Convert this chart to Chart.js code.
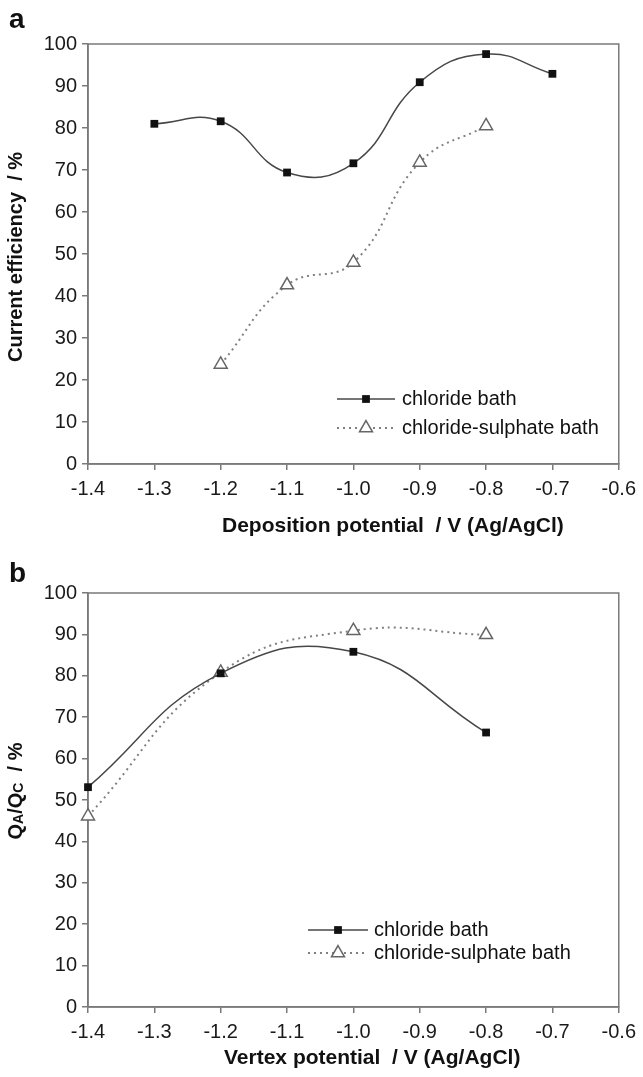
<!DOCTYPE html>
<html>
<head>
<meta charset="utf-8">
<script src="https://cdn.jsdelivr.net/npm/chart.js@4.4.1/dist/chart.umd.min.js"></script>
<style>
body { margin: 0; background: #fff; }
canvas { position: absolute; left: 0; }
#chartA { top: 0; }
#chartB { top: 540px; }
</style>
</head>
<body>
<canvas id="chartA" width="643" height="540"></canvas>
<canvas id="chartB" width="643" height="537"></canvas>
<script>
// panel a: current efficiency vs deposition potential
var potA = [-1.3, -1.2, -1.1, -1.0, -0.9, -0.8, -0.7];
var chlorideA = [81.0, 81.6, 69.4, 71.6, 90.9, 97.6, 92.9];
var potA2 = [-1.2, -1.1, -1.0, -0.9, -0.8];
var sulphateA = [23.7, 42.6, 48.0, 71.8, 80.5];

// panel b: QA/QC vs vertex potential
var potB = [-1.4, -1.2, -1.0, -0.8];
var chlorideB = [53.1, 80.6, 85.8, 66.3];
var sulphateB = [46.1, 80.8, 90.9, 89.9];

var xTicks = [-1.4, -1.3, -1.2, -1.1, -1.0, -0.9, -0.8, -0.7, -0.6];
var yTicks = [0, 10, 20, 30, 40, 50, 60, 70, 80, 90, 100];
var seriesNames = ["chloride bath", "chloride-sulphate bath"];

var FONT = "'Liberation Sans', Arial, sans-serif";
var AXIS = '#7a7a7a';

function pts(xs, ys) {
    var out = [];
    for (var i in xs) out.push({ x: xs[i], y: ys[i] });
    return out;
}

function chlorideSet(data) {
    return {
        label: seriesNames[0],
        data: data,
        borderColor: '#474747',
        borderWidth: 1.5,
        tension: 0.45,
        pointStyle: 'rect',
        pointRadius: 5.5,
        pointBackgroundColor: '#111',
        pointBorderColor: '#111',
        pointBorderWidth: 0,
        clip: false
    };
}

function sulphateSet(data) {
    return {
        label: seriesNames[1],
        data: data,
        borderColor: '#808080',
        borderWidth: 2,
        borderDash: [2, 4],
        tension: 0.45,
        pointStyle: 'triangle',
        pointRadius: 7.5,
        pointBackgroundColor: '#fff',
        pointBorderColor: '#666',
        pointBorderWidth: 1.5,
        clip: false
    };
}

// plot frame (top + right side like the excel box)
var framePlugin = {
    id: 'frame',
    beforeDatasetsDraw: function(chart) {
        var a = chart.chartArea, ctx = chart.ctx;
        ctx.save();
        ctx.strokeStyle = AXIS;
        ctx.lineWidth = 1.5;
        ctx.strokeRect(a.left, a.top, a.right - a.left, a.bottom - a.top);
        ctx.restore();
    }
};

// legend inside the plot, sample line with marker in the middle
var legendPlugin = {
    id: 'inlegend',
    afterDraw: function(chart) {
        var o = chart.options.plugins.inlegend;
        var ctx = chart.ctx, a = chart.chartArea;
        chart.data.datasets.forEach(function(ds, i) {
            var y = a.top + o.top + i * o.gap;
            var x0 = a.left + o.left;
            ctx.save();
            ctx.strokeStyle = ds.borderColor;
            ctx.lineWidth = ds.borderWidth;
            ctx.setLineDash(ds.borderDash || []);
            ctx.beginPath();
            ctx.moveTo(x0, y);
            ctx.lineTo(x0 + o.len, y);
            ctx.stroke();
            ctx.setLineDash([]);
            ctx.fillStyle = ds.pointBackgroundColor;
            ctx.strokeStyle = ds.pointBorderColor;
            ctx.lineWidth = ds.pointBorderWidth;
            Chart.helpers.drawPoint(ctx, {
                pointStyle: ds.pointStyle,
                radius: ds.pointRadius,
                borderWidth: ds.pointBorderWidth,
                rotation: 0
            }, x0 + o.len / 2, y);
            ctx.fillStyle = '#111';
            ctx.font = o.size + 'px ' + FONT;
            ctx.textBaseline = 'middle';
            ctx.textAlign = 'left';
            ctx.fillText(ds.label, x0 + o.len + o.textGap, y);
            ctx.restore();
        });
    }
};

// axis titles and panel letter
var titlePlugin = {
    id: 'titles',
    afterDraw: function(chart) {
        var o = chart.options.plugins.titles;
        var ctx = chart.ctx, a = chart.chartArea;
        ctx.save();
        ctx.fillStyle = '#111';
        ctx.textBaseline = 'alphabetic';
        ctx.font = 'bold 28px ' + FONT;
        ctx.fillText(o.letter, o.letterX, o.letterY);

        ctx.font = 'bold 21px ' + FONT;
        ctx.textAlign = 'left';
        ctx.textBaseline = 'middle';
        ctx.fillText(o.xTitle, a.left + o.xTitleDX, a.bottom + o.xTitleDY);

        // y title, rotated; parts flagged 1 are subscripts
        var parts = o.yTitle;
        var big = 'bold 20px ' + FONT, small = 'bold 14px ' + FONT;
        var total = 0;
        parts.forEach(function(p) {
            ctx.font = p[1] ? small : big;
            total += ctx.measureText(p[0]).width;
        });
        ctx.translate(o.yTitleX, (a.top + a.bottom) / 2 + o.yTitleDY);
        ctx.rotate(-Math.PI / 2);
        var x = -total / 2;
        parts.forEach(function(p) {
            ctx.font = p[1] ? small : big;
            ctx.fillText(p[0], x, p[1] ? 3 : 0);
            x += ctx.measureText(p[0]).width;
        });
        ctx.restore();
    }
};

function makeOptions(pad, xh, legendPos, titles) {
    return {
        responsive: false,
        animation: false,
        layout: { padding: pad },
        plugins: {
            legend: { display: false },
            tooltip: { enabled: false },
            inlegend: legendPos,
            titles: titles
        },
        scales: {
            x: {
                type: 'linear',
                min: -1.4,
                max: -0.6,
                afterBuildTicks: function(s) { s.ticks = xTicks.map(function(v) { return { value: v }; }); },
                afterFit: function(s) { s.height = xh; },
                ticks: {
                    color: '#1a1a1a',
                    font: { family: FONT, size: 20 },
                    padding: 7,
                    maxRotation: 0,
                    callback: function(v) { return Number(v).toFixed(1); }
                },
                grid: { drawOnChartArea: false, drawTicks: true, tickLength: 6, color: AXIS, lineWidth: 1.5 },
                border: { display: true, color: AXIS, width: 1.5 }
            },
            y: {
                min: 0,
                max: 100,
                afterBuildTicks: function(s) { s.ticks = yTicks.map(function(v) { return { value: v }; }); },
                afterFit: function(s) { s.width = 88; },
                ticks: {
                    color: '#1a1a1a',
                    font: { family: FONT, size: 20 },
                    padding: 5
                },
                grid: { drawOnChartArea: false, drawTicks: true, tickLength: 6, color: AXIS, lineWidth: 1.5 },
                border: { display: true, color: AXIS, width: 1.5 }
            }
        }
    };
}

new Chart(document.getElementById('chartA'), {
    type: 'line',
    data: { datasets: [chlorideSet(pts(potA, chlorideA)), sulphateSet(pts(potA2, sulphateA))] },
    options: makeOptions(
        { top: 44, right: 21, left: 0, bottom: 0 }, 76,
        { left: 249, top: 355, gap: 29, len: 58, textGap: 7, size: 20 },
        {
            letter: 'a', letterX: 9, letterY: 28,
            xTitle: 'Deposition potential  / V (Ag/AgCl)', xTitleDX: 134, xTitleDY: 62,
            yTitle: [['Current efficiency  / %', 0]], yTitleX: 16, yTitleDY: 3
        }
    ),
    plugins: [framePlugin, legendPlugin, titlePlugin]
});

new Chart(document.getElementById('chartB'), {
    type: 'line',
    data: { datasets: [chlorideSet(pts(potB, chlorideB)), sulphateSet(pts(potB, sulphateB))] },
    options: makeOptions(
        { top: 53, right: 19, left: 0, bottom: 0 }, 70,
        { left: 220, top: 337, gap: 23, len: 60, textGap: 6, size: 20 },
        {
            letter: 'b', letterX: 9, letterY: 42,
            xTitle: 'Vertex potential  / V (Ag/AgCl)', xTitleDX: 136, xTitleDY: 51,
            yTitle: [['Q', 0], ['A', 1], ['/Q', 0], ['C', 1], ['  / %', 0]], yTitleX: 16, yTitleDY: -9
        }
    ),
    plugins: [framePlugin, legendPlugin, titlePlugin]
});
</script>
</body>
</html>
